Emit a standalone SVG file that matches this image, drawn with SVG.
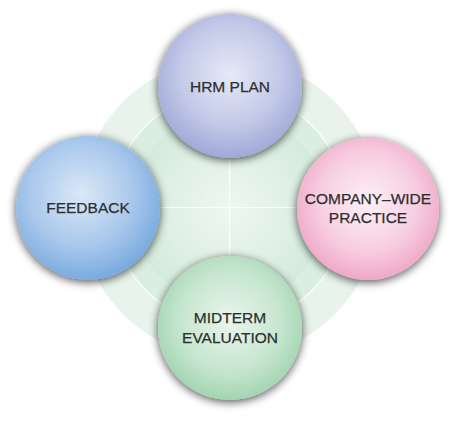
<svg xmlns="http://www.w3.org/2000/svg" width="456" height="421" viewBox="0 0 456 421">
<defs>
  <style>
    .lbl { font-family: "Liberation Sans", Arial, sans-serif; font-size: 15.5px; fill: #2e2e2e; stroke: #2e2e2e; stroke-width: 0.25; text-anchor: middle; }
    .conn { stroke: #ffffff; stroke-width: 1.2; fill: none; opacity: 0.9; }
  </style>
  <radialGradient id="bgInner" cx="50%" cy="50%" r="50%">
    <stop offset="0" stop-color="#eef7f1"/>
    <stop offset="0.6" stop-color="#e0f0e6"/>
    <stop offset="1" stop-color="#d4ebdc"/>
  </radialGradient>
  <radialGradient id="gHrm" cx="50%" cy="42%" r="58%">
    <stop offset="0" stop-color="#e6e9f6"/>
    <stop offset="0.6" stop-color="#c3c9e8"/>
    <stop offset="1" stop-color="#a0a9d8"/>
  </radialGradient>
  <radialGradient id="gFb" cx="45%" cy="40%" r="60%">
    <stop offset="0" stop-color="#dbe8f6"/>
    <stop offset="0.6" stop-color="#a9c8ec"/>
    <stop offset="1" stop-color="#7aabdf"/>
  </radialGradient>
  <radialGradient id="gCo" cx="50%" cy="45%" r="58%">
    <stop offset="0" stop-color="#fdf1f7"/>
    <stop offset="0.6" stop-color="#f7cde0"/>
    <stop offset="1" stop-color="#eea3c4"/>
  </radialGradient>
  <radialGradient id="gMid" cx="50%" cy="45%" r="58%">
    <stop offset="0" stop-color="#eaf5ed"/>
    <stop offset="0.6" stop-color="#c6e6cf"/>
    <stop offset="1" stop-color="#9ed2ad"/>
  </radialGradient>
  <filter id="shadow" x="-30%" y="-30%" width="160%" height="160%">
    <feGaussianBlur in="SourceAlpha" stdDeviation="5"/>
    <feOffset dy="2" result="b"/>
    <feComponentTransfer><feFuncA type="linear" slope="0.7"/></feComponentTransfer>
    <feMerge><feMergeNode/><feMergeNode in="SourceGraphic"/></feMerge>
  </filter>
</defs>
<rect width="456" height="421" fill="#ffffff"/>
<g id="background">
  <circle cx="229" cy="208" r="150" fill="#e7f3eb"/>
  <circle cx="229" cy="208" r="117" fill="#dbeee2"/>
  <circle cx="229" cy="208" r="97" fill="url(#bgInner)"/>
</g>
<g id="connectors">
  <circle class="conn" cx="229" cy="208" r="117"/>
  <line class="conn" x1="229.5" y1="157" x2="229.5" y2="258"/>
  <line class="conn" x1="159" y1="207.5" x2="298" y2="207.5"/>
</g>
<g id="hrm-plan">
  <circle cx="230" cy="86" r="72" fill="url(#gHrm)" filter="url(#shadow)"/>
  <text class="lbl" x="230" y="91.5">HRM PLAN</text>
</g>
<g id="feedback">
  <circle cx="88" cy="208" r="72" fill="url(#gFb)" filter="url(#shadow)"/>
  <text class="lbl" x="88" y="213">FEEDBACK</text>
</g>
<g id="company-wide-practice">
  <circle cx="368" cy="209" r="71" fill="url(#gCo)" filter="url(#shadow)"/>
  <text class="lbl" x="368" y="204">COMPANY–WIDE</text>
  <text class="lbl" x="368" y="223">PRACTICE</text>
</g>
<g id="midterm-evaluation">
  <circle cx="230" cy="328" r="72" fill="url(#gMid)" filter="url(#shadow)"/>
  <text class="lbl" x="230" y="323">MIDTERM</text>
  <text class="lbl" x="230" y="343">EVALUATION</text>
</g>
</svg>
